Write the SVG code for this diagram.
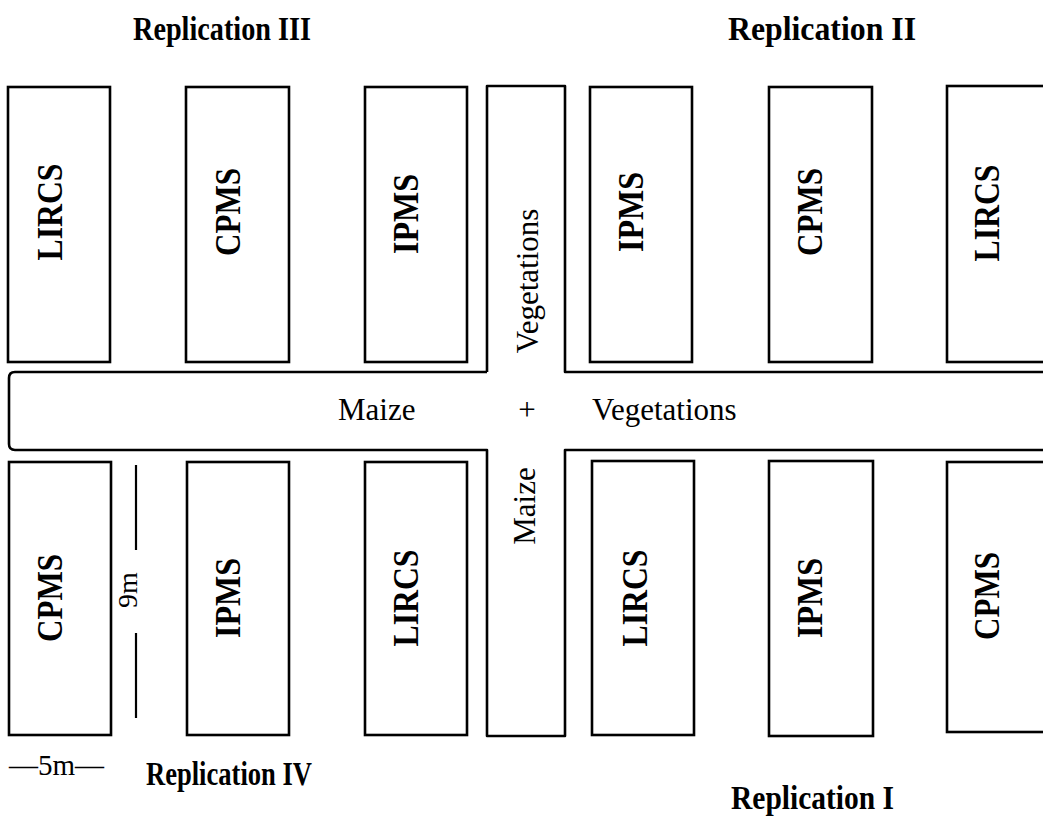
<svg xmlns="http://www.w3.org/2000/svg" width="1043" height="816" viewBox="0 0 1043 816">
<style>
.plot{fill:#fff;stroke:#000;stroke-width:2.6}
.edge{fill:none;stroke:#000;stroke-width:2.6;stroke-linejoin:round}
.lab{font-family:"Liberation Serif","Times New Roman",serif;font-weight:bold;font-size:36px;text-anchor:middle;fill:#000}
.reg{font-family:"Liberation Serif","Times New Roman",serif;font-size:31px;fill:#000}
.title{font-family:"Liberation Serif","Times New Roman",serif;font-weight:bold;font-size:34px;fill:#000}
.dim{fill:none;stroke:#000;stroke-width:2.2}
</style>
<rect width="1043" height="816" fill="#fff"/>
<g id="connectors">
<path class="edge" d="M487 372 L487 86 L565 86 L565 372 L1050 372"/>
<path class="edge" d="M1050 450 L565 450 L565 736 L487 736 L487 450 L15 450 Q9 450 9 444 L9 378 Q9 372 15 372 L487 372"/>
</g>
<g id="cross-labels">
<text class="reg" transform="translate(538,281) rotate(-90)" text-anchor="middle">Vegetations</text>
<text class="reg" transform="translate(535,506) rotate(-90)" text-anchor="middle">Maize</text>
<text class="reg" x="338" y="420">Maize</text>
<text class="reg" x="527" y="420" text-anchor="middle">+</text>
<text class="reg" x="592" y="420">Vegetations</text>
</g>
<g id="rep3-lircs"><rect class="plot" x="8" y="87" width="102" height="275"/><text class="lab" transform="translate(62,212) rotate(-90)" textLength="97" lengthAdjust="spacingAndGlyphs">LIRCS</text></g>
<g id="rep3-cpms"><rect class="plot" x="186" y="87" width="103" height="275"/><text class="lab" transform="translate(240,212) rotate(-90)" textLength="88" lengthAdjust="spacingAndGlyphs">CPMS</text></g>
<g id="rep3-ipms"><rect class="plot" x="365" y="87" width="102" height="275"/><text class="lab" transform="translate(418,214) rotate(-90)" textLength="80" lengthAdjust="spacingAndGlyphs">IPMS</text></g>
<g id="rep2-ipms"><rect class="plot" x="590" y="87" width="102" height="275"/><text class="lab" transform="translate(643,212) rotate(-90)" textLength="80" lengthAdjust="spacingAndGlyphs">IPMS</text></g>
<g id="rep2-cpms"><rect class="plot" x="769" y="87" width="103" height="275"/><text class="lab" transform="translate(822,212) rotate(-90)" textLength="88" lengthAdjust="spacingAndGlyphs">CPMS</text></g>
<g id="rep2-lircs"><rect class="plot" x="947" y="86" width="110" height="276"/><text class="lab" transform="translate(999,213) rotate(-90)" textLength="97" lengthAdjust="spacingAndGlyphs">LIRCS</text></g>
<g id="rep4-cpms"><rect class="plot" x="9" y="462" width="102" height="273"/><text class="lab" transform="translate(62,598) rotate(-90)" textLength="88" lengthAdjust="spacingAndGlyphs">CPMS</text></g>
<g id="rep4-ipms"><rect class="plot" x="187" y="462" width="102" height="273"/><text class="lab" transform="translate(240,598) rotate(-90)" textLength="80" lengthAdjust="spacingAndGlyphs">IPMS</text></g>
<g id="rep4-lircs"><rect class="plot" x="365" y="462" width="102" height="273"/><text class="lab" transform="translate(418,598) rotate(-90)" textLength="97" lengthAdjust="spacingAndGlyphs">LIRCS</text></g>
<g id="rep1-lircs"><rect class="plot" x="592" y="461" width="102" height="274"/><text class="lab" transform="translate(647,598) rotate(-90)" textLength="97" lengthAdjust="spacingAndGlyphs">LIRCS</text></g>
<g id="rep1-ipms"><rect class="plot" x="769" y="461" width="104" height="275"/><text class="lab" transform="translate(822,598) rotate(-90)" textLength="80" lengthAdjust="spacingAndGlyphs">IPMS</text></g>
<g id="rep1-cpms"><rect class="plot" x="947" y="462" width="110" height="270"/><text class="lab" transform="translate(999,596) rotate(-90)" textLength="88" lengthAdjust="spacingAndGlyphs">CPMS</text></g>
<g id="scale">
<line class="dim" x1="136" y1="465" x2="136" y2="550"/>
<line class="dim" x1="136" y1="633" x2="136" y2="718"/>
<text class="reg" transform="translate(137,590) rotate(-90)" text-anchor="middle" style="font-size:28px">9m</text>
<text class="reg" x="9" y="775" style="font-size:29px">—5m—</text>
</g>
<g id="titles">
<text class="title" x="133" y="40" textLength="178" lengthAdjust="spacingAndGlyphs">Replication III</text>
<text class="title" x="728" y="40" textLength="188" lengthAdjust="spacingAndGlyphs">Replication II</text>
<text class="title" x="146" y="785" textLength="166" lengthAdjust="spacingAndGlyphs">Replication IV</text>
<text class="title" x="731" y="809" textLength="163" lengthAdjust="spacingAndGlyphs">Replication I</text>
</g>
</svg>
